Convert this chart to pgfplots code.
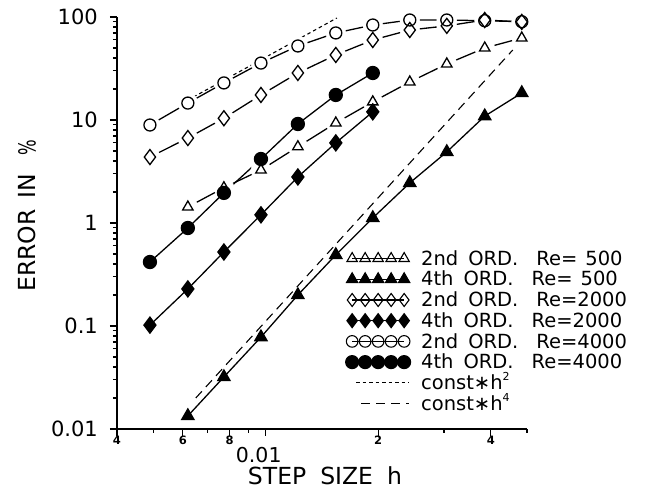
\documentclass[border=0pt]{standalone}
\usepackage{fontspec}
\setmainfont{DejaVu Sans}
\usepackage{pgfplots}
\pgfplotsset{compat=1.18}
\newcommand{\fivepts}{plot coordinates {(0pt,0pt) (13pt,0pt) (26pt,0pt) (39pt,0pt) (52pt,0pt)}}
\newcommand{\lbox}{\path[draw=none,fill=none] (-7pt,-7pt) rectangle (59pt,7pt);}
\begin{document}
\begin{tikzpicture}
\begin{axis}[
  at={(0pt,0pt)}, anchor=south west,
  scale only axis, width=410pt, height=412pt,
  xmode=log, ymode=log,
  xmin=0.004, xmax=0.05, ymin=0.01, ymax=100,
  axis lines=left, axis line style={-, line width=1.6pt},
  clip=false,
  tick align=outside,
  major tick length=7pt, minor tick length=4pt,
  tick style={black, line width=1.2pt},
  xtick={0.004,0.006,0.008,0.02,0.04},
  xticklabels={4,6,8,2,4},
  xticklabel style={font=\fontsize{11.5}{12}\selectfont\bfseries, inner sep=0pt, anchor=north},
  minor xtick={0.005,0.007,0.009,0.03,0.05},
  extra x ticks={0.01},
  extra x tick labels={0.01},
  extra x tick style={xticklabel style={font=\fontsize{20.5}{21}\selectfont, yshift=-11pt, xshift=-7pt}},
  ytick={0.01,0.1,1,10,100},
  yticklabels={0.01,0.1,1,10,100},
  yticklabel style={font=\fontsize{21}{21}\selectfont, inner sep=0pt, anchor=east, xshift=-12pt},
  minor ytick={0.02,0.03,0.04,0.05,0.06,0.07,0.08,0.09,0.2,0.3,0.4,0.5,0.6,0.7,0.8,0.9,2,3,4,5,6,7,8,9,20,30,40,50,60,70,80,90},
  xlabel={STEP\hspace{14pt}SIZE\hspace{14pt}h},
  xlabel style={font=\fontsize{23.5}{24}\selectfont, at={(axis description cs:0.5,0)}, anchor=base, inner sep=0pt, yshift=-55pt, xshift=3pt},
  ylabel={ERROR\hspace{11pt}IN\hspace{18pt}\scalebox{0.7}[1]{\%}},
  ylabel style={font=\fontsize{23.5}{24}\selectfont, at={(axis description cs:0,0.5)}, anchor=center, inner sep=0pt, yshift=90pt, xshift=7pt},
  legend style={at={(axis description cs:0.556,0.434)}, anchor=north west, draw=none, fill=none,
    font=\fontsize{19.5}{20}\selectfont, inner sep=0pt, row sep=4.4pt, column sep=10pt,
    cells={anchor=west}, nodes={inner sep=0pt}},
]
% ---------- legend entries (images only) ----------
\addlegendimage{legend image code/.code={\lbox
  \draw[black,line width=1.1pt,mark=triangle,mark size=6pt] \fivepts;}}
\addlegendentry{2nd\hspace{10pt}ORD.\hspace{18pt}Re=\hspace{8pt}500}
\addlegendimage{legend image code/.code={\lbox
  \draw[black,line width=1.1pt,mark=triangle*,mark size=6.5pt] \fivepts;}}
\addlegendentry{4th\hspace{10pt}ORD.\hspace{18pt}Re=\hspace{8pt}500}
\addlegendimage{legend image code/.code={\lbox
  \draw[black,line width=1.1pt,mark=diamond,mark size=6.5pt] \fivepts;}}
\addlegendentry{2nd\hspace{10pt}ORD.\hspace{18pt}Re=2000}
\addlegendimage{legend image code/.code={\lbox
  \draw[black,line width=1.1pt,mark=diamond*,mark size=7pt] \fivepts;}}
\addlegendentry{4th\hspace{10pt}ORD.\hspace{18pt}Re=2000}
\addlegendimage{legend image code/.code={\lbox
  \draw[black,line width=1.1pt,mark=o,mark size=5.8pt] \fivepts;}}
\addlegendentry{2nd\hspace{10pt}ORD.\hspace{18pt}Re=4000}
\addlegendimage{legend image code/.code={\lbox
  \draw[black,line width=1.1pt,mark=*,mark size=6.5pt] \fivepts;}}
\addlegendentry{4th\hspace{10pt}ORD.\hspace{18pt}Re=4000}
\addlegendimage{legend image code/.code={\lbox
  \draw[black,line width=1.1pt,dash pattern=on 3.5pt off 3pt] (4pt,0pt)--(57pt,0pt);}}
\addlegendentry{const∗h\raisebox{9pt}[0pt][0pt]{\fontsize{11}{11}\selectfont 2}}
\addlegendimage{legend image code/.code={\lbox
  \draw[black,line width=1.1pt,dash pattern=on 9pt off 6pt] (9pt,0pt)--(57pt,0pt);}}
\addlegendentry{const∗h\raisebox{9pt}[0pt][0pt]{\fontsize{11}{11}\selectfont 4}}

% ---------- 2nd order lines ----------
\addplot[black, line width=1.3pt, forget plot] coordinates {
 (0.00619,1.43) (0.00773,2.2) (0.00971,3.27) (0.01219,5.5) (0.01540,9.35)
 (0.01934,15.0) (0.02429,23.4) (0.03051,35) (0.03855,50) (0.04842,62.5)};
\addplot[black, line width=1.3pt, forget plot] coordinates {
 (0.00490,4.37) (0.00619,6.68) (0.00773,10.4) (0.00971,17.5) (0.01219,28.6) (0.01540,42.8)
 (0.01934,59.8) (0.02429,74.8) (0.03051,82) (0.03855,93.5) (0.04842,89.6)};
\addplot[black, line width=1.3pt, forget plot] coordinates {
 (0.00490,8.94) (0.00619,14.6) (0.00773,22.9) (0.00971,35.7) (0.01219,52.3) (0.01540,70)
 (0.01934,83.6) (0.02429,93.5) (0.03051,93.5) (0.03855,92) (0.04842,90)};
% ---------- halos (gaps around open markers) ----------
\addplot[only marks, mark=*, mark size=10pt, white, forget plot] coordinates {
 (0.00619,1.43) (0.00773,2.2) (0.00971,3.27) (0.01219,5.5) (0.01540,9.35)
 (0.01934,15.0) (0.02429,23.4) (0.03051,35) (0.03855,50) (0.04842,62.5)};
\addplot[only marks, mark=*, mark size=10pt, white, forget plot] coordinates {
 (0.00490,4.37) (0.00619,6.68) (0.00773,10.4) (0.00971,17.5) (0.01219,28.6) (0.01540,42.8)
 (0.01934,59.8) (0.02429,74.8) (0.03051,82) (0.03855,93.5) (0.04842,89.6)};
\addplot[only marks, mark=*, mark size=10pt, white, forget plot] coordinates {
 (0.00490,8.94) (0.00619,14.6) (0.00773,22.9) (0.00971,35.7) (0.01219,52.3) (0.01540,70)
 (0.01934,83.6) (0.02429,93.5) (0.03051,93.5) (0.03855,92) (0.04842,90)};
% ---------- reference slopes ----------
\addplot[black, line width=1.1pt, dash pattern=on 3.5pt off 3pt, forget plot] coordinates {(0.00619,15.6) (0.0155,97.8)};
\addplot[black, line width=1.1pt, dash pattern=on 9pt off 6pt, forget plot] coordinates {(0.0065,0.020) (0.0458,47.8)};
% ---------- 4th order ----------
\addplot[black, line width=1.3pt, mark=triangle*, mark size=7pt, forget plot] coordinates {
 (0.00619,0.0134) (0.00773,0.032) (0.00971,0.078) (0.01219,0.20) (0.01540,0.49)
 (0.01934,1.12) (0.02429,2.45) (0.03051,4.9) (0.03855,10.9) (0.04842,18.3)};
\addplot[black, line width=1.3pt, mark=diamond*, mark size=8pt, forget plot] coordinates {
 (0.00490,0.102) (0.00619,0.229) (0.00773,0.523) (0.00971,1.2) (0.01219,2.8)
 (0.01540,6.0) (0.01934,12.0)};
\addplot[black, line width=1.3pt, mark=*, mark size=6.5pt, forget plot] coordinates {
 (0.00490,0.418) (0.00619,0.894) (0.00773,1.96) (0.00971,4.18) (0.01219,9.15)
 (0.01540,17.5) (0.01934,28.6)};
% ---------- 2nd order markers ----------
\addplot[only marks, black, line width=1.3pt, mark=triangle, mark size=6pt, mark options={fill=white}, forget plot] coordinates {
 (0.00619,1.43) (0.00773,2.2) (0.00971,3.27) (0.01219,5.5) (0.01540,9.35)
 (0.01934,15.0) (0.02429,23.4) (0.03051,35) (0.03855,50) (0.04842,62.5)};
\addplot[only marks, black, line width=1.3pt, mark=diamond, mark size=7.5pt, mark options={fill=white}, forget plot] coordinates {
 (0.00490,4.37) (0.00619,6.68) (0.00773,10.4) (0.00971,17.5) (0.01219,28.6) (0.01540,42.8)
 (0.01934,59.8) (0.02429,74.8) (0.03051,82) (0.03855,93.5) (0.04842,89.6)};
\addplot[only marks, black, line width=1.3pt, mark=o, mark size=6pt, mark options={fill=white}, forget plot] coordinates {
 (0.00490,8.94) (0.00619,14.6) (0.00773,22.9) (0.00971,35.7) (0.01219,52.3) (0.01540,70)
 (0.01934,83.6) (0.02429,93.5) (0.03051,93.5) (0.03855,92) (0.04842,90)};
\end{axis}
\pgfresetboundingbox
\path[use as bounding box] (-117pt,-60pt) rectangle (531pt,429pt);
\end{tikzpicture}
\end{document}
